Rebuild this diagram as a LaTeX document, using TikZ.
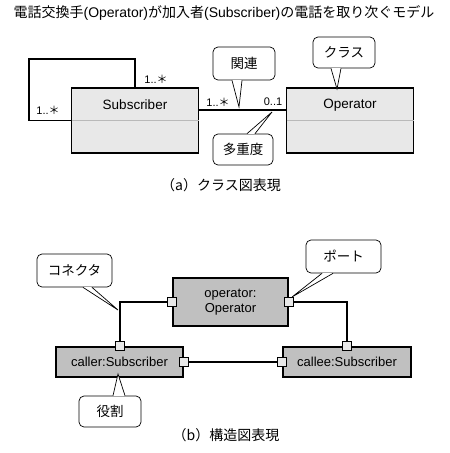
\documentclass[tikz,border=0pt]{standalone}
\usepackage{fontspec}
\setmainfont{Liberation Sans}
\newfontfamily\jp{Noto Sans CJK JP}
\usepackage{tikz}
\usetikzlibrary{positioning}
\definecolor{ClassGray}{RGB}{232,232,232}
\definecolor{PartGray}{RGB}{192,192,192}
\definecolor{RuleGray}{RGB}{185,185,185}

% tail of a speech balloon: two base points on the border, one tip
\newcommand{\balloontail}[3]{%
  \fill[white] #1 -- #3 -- #2 -- cycle;
  \draw[white, line width=1.6pt, shorten <=0.6pt, shorten >=0.6pt] #1 -- #2;
  \draw[line width=0.7pt] #1 -- #3 -- #2;
}

\begin{document}
\begin{tikzpicture}[
    x=1pt, y=-1pt,
    classbox/.style={draw, line width=1.8pt, fill=ClassGray, minimum width=127pt, minimum height=65pt, inner sep=0pt},
    partbox/.style={draw, line width=1.9pt, fill=PartGray, font=\fontsize{13}{15}\selectfont, inner sep=0pt},
    portbox/.style={draw, line width=0.7pt, fill=ClassGray, minimum size=9pt, inner sep=0pt},
    balloon/.style={draw, line width=0.7pt, fill=white, rounded corners=5pt, font=\jp\fontsize{13.5}{15}\selectfont, inner sep=0pt},
    classname/.style={font=\fontsize{13.5}{16}\selectfont},
    mult/.style={font=\fontsize{11}{13}\selectfont, inner sep=0pt},
    assoc/.style={line width=1.5pt},
    wire/.style={line width=2pt},
    caption/.style={font=\jp\fontsize{14}{16}\selectfont}
]
    \useasboundingbox (0,0) rectangle (450,453);

    \node[font=\fontsize{14}{16}\selectfont] (title) at (224,13)
        {{\jp 電話交換手}(Operator){\jp が加入者}(Subscriber){\jp の電話を取り次ぐモデル}};

    % (a) class diagram
    \node[classbox] (sub) at (135,120.5) {};
    \node[classbox] (op) at (350,120.5) {};
    \draw[RuleGray, line width=1pt] ([xshift=0.9pt]sub.west) -- ([xshift=-0.9pt]sub.east);
    \draw[RuleGray, line width=1pt] ([xshift=0.9pt]op.west) -- ([xshift=-0.9pt]op.east);
    \node[classname] (subname) at (135,105) {Subscriber};
    \node[classname] (opname) at (350,105) {Operator};

    \draw[assoc] (sub.west) -- (29,120.5) -- (29,59) -| (sub.north);
    \draw[assoc] ([yshift=10.5pt]sub.east) -- ([yshift=10.5pt]op.west);

    \node[mult] (m1) at (156,79) {1..\jp＊};
    \node[mult] (m2) at (48,110) {1..\jp＊};
    \node[mult] (m3) at (218,102) {1..\jp＊};
    \node[mult] (m4) at (273,102) {0..1};

    \node[balloon, minimum width=62pt, minimum height=33pt] (kanren) at (244,63.5) {関連};
    \node[balloon, minimum width=62pt, minimum height=31pt] (kurasu) at (344,52.5) {クラス};
    \node[balloon, minimum width=60pt, minimum height=31pt] (tajudo) at (243,149.5) {多重度};
    \coordinate (kanrentip) at (239,107);
    \coordinate (kurasutip) at (337,89);
    \coordinate (tajudotip) at (272,112);
    \balloontail{([xshift=-12pt]kanren.south)}{([xshift=-2pt]kanren.south)}{(kanrentip)}
    \balloontail{([xshift=-13pt]kurasu.south)}{([xshift=-3pt]kurasu.south)}{(kurasutip)}
    \balloontail{([xshift=4pt]tajudo.north)}{([xshift=12pt]tajudo.north)}{(tajudotip)}

    \node[caption] (capa) at (221,185) {（a）クラス図表現};

    % (b) structure diagram
    \node[partbox, minimum width=115pt, minimum height=48pt, align=center] (operator) at (230.5,302)
        {operator:\\Operator};
    \node[partbox, minimum width=127pt, minimum height=30pt] (caller) at (119.5,362) {caller:Subscriber};
    \node[partbox, minimum width=128pt, minimum height=30pt] (callee) at (347,362) {callee:Subscriber};

    \draw[wire] (caller.north) |- (operator.west);
    \draw[wire] (operator.east) -| (callee.north);
    \draw[wire] (caller.east) -- (callee.west);

    \node[portbox] (popl) at (operator.west) {};
    \node[portbox] (popr) at (operator.east) {};
    \node[portbox] (pcallert) at (caller.north) {};
    \node[portbox] (pcallerr) at (caller.east) {};
    \node[portbox] (pcalleel) at (callee.west) {};
    \node[portbox] (pcalleet) at (callee.north) {};

    \node[balloon, minimum width=75pt, minimum height=33pt] (konekuta) at (74.5,270.5) {コネクタ};
    \node[balloon, minimum width=75pt, minimum height=33pt] (poto) at (343.5,256.5) {ポート};
    \node[balloon, minimum width=62pt, minimum height=31pt] (yakuwari) at (110,411.5) {役割};
    \coordinate (konekutatip) at (118,310);
    \coordinate (pototip) at (292,297);
    \coordinate (yakuwaritip) at (118,374);
    \balloontail{([xshift=8.5pt]konekuta.south)}{([xshift=17.5pt]konekuta.south)}{(konekutatip)}
    \balloontail{([xshift=-21.5pt]poto.south)}{([xshift=-10.5pt]poto.south)}{(pototip)}
    \balloontail{([xshift=3pt]yakuwari.north)}{([xshift=15pt]yakuwari.north)}{(yakuwaritip)}

    \node[caption] (capb) at (226,435) {（b）構造図表現};
\end{tikzpicture}
\end{document}
